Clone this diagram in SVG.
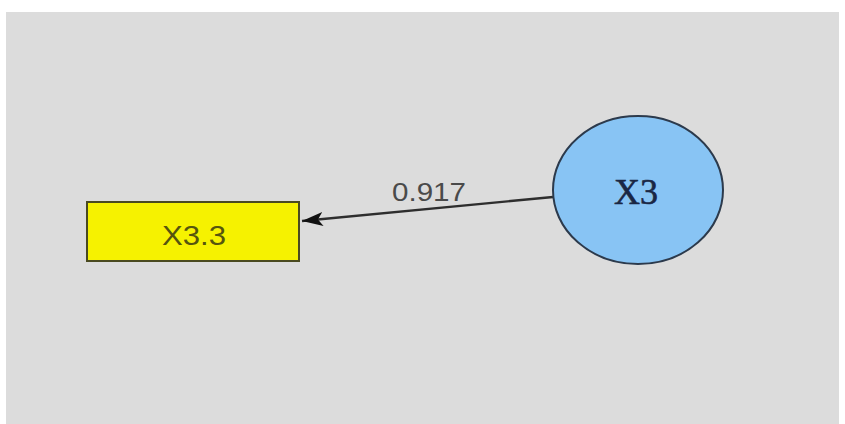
<svg xmlns="http://www.w3.org/2000/svg" width="845" height="424" viewBox="0 0 845 424">
<style>
.lbl{font-family:"Liberation Sans",Arial,sans-serif;}
.edge{stroke:#2e2e2e;stroke-width:2.4;fill:none;}
</style>
<defs>
<marker id="ah" markerWidth="22" markerHeight="16" refX="21" refY="8" orient="auto" markerUnits="userSpaceOnUse">
<path d="M0,1 L21,8 L0,15 L5,8 Z" fill="#111"/>
</marker>
</defs>
<rect x="0" y="0" width="845" height="424" fill="#ffffff"/>
<rect x="6" y="12" width="833" height="412" fill="#dcdcdc"/>
<g id="connectors">
<line class="edge" x1="553" y1="197" x2="302" y2="221" marker-end="url(#ah)"/>
<text class="lbl" x="429" y="201" font-size="25" fill="#4a4a4a" text-anchor="middle" textLength="74" lengthAdjust="spacingAndGlyphs">0.917</text>
</g>
<g id="node-X3.3">
<rect x="87" y="202" width="212" height="59" fill="#f6f200" stroke="#4a4a20" stroke-width="2"/>
<text class="lbl" x="194" y="245" font-size="27" fill="#55550e" text-anchor="middle" textLength="64" lengthAdjust="spacingAndGlyphs">X3.3</text>
</g>
<g id="node-X3">
<ellipse cx="638" cy="190" rx="85" ry="74" fill="#88c4f4" stroke="#2c3a4c" stroke-width="2"/>
<text x="636" y="204" font-family="Liberation Serif,'Times New Roman',serif" font-size="36" fill="#1a2744" stroke="#1a2744" stroke-width="0.6" text-anchor="middle" textLength="44" lengthAdjust="spacingAndGlyphs">X3</text>
</g>
</svg>
